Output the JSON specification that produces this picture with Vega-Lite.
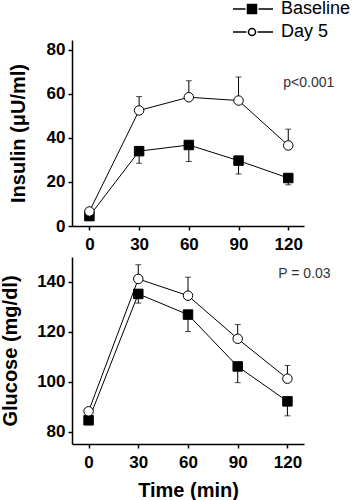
{
  "$schema": "https://vega.github.io/schema/vega-lite/v6.json",
  "padding": 0,
  "background": "white",
  "spacing": 5,
  "config": {
    "font": "Liberation Sans",
    "view": {"stroke": null},
    "axis": {
      "grid": false,
      "domainColor": "black",
      "domainWidth": 1.5,
      "tickColor": "black",
      "tickWidth": 1.5,
      "tickSize": 4,
      "labelFont": "Liberation Sans",
      "labelFontSize": 17,
      "labelFontWeight": "bold",
      "labelColor": "black",
      "labelPadding": 3,
      "titleFont": "Liberation Sans",
      "titleFontSize": 20,
      "titleFontWeight": "bold",
      "titleColor": "black"
    },
    "legend": {
      "padding": 0,
      "labelFontSize": 18,
      "labelFont": "Liberation Sans",
      "labelColor": "black",
      "labelFontWeight": "normal",
      "symbolSize": 100,
      "labelOffset": 20,
      "rowPadding": 5
    }
  },
  "datasets": {
    "measures": [
      {"panel": "Insulin", "group": "Baseline", "time": 0, "value": 4.5, "err": null},
      {"panel": "Insulin", "group": "Baseline", "time": 30, "value": 34, "err": 28.5},
      {"panel": "Insulin", "group": "Baseline", "time": 60, "value": 36.8, "err": 29.3},
      {"panel": "Insulin", "group": "Baseline", "time": 90, "value": 29.7, "err": 23.6},
      {"panel": "Insulin", "group": "Baseline", "time": 120, "value": 21.8, "err": 18.7},
      {"panel": "Insulin", "group": "Day 5", "time": 0, "value": 6.6, "err": null},
      {"panel": "Insulin", "group": "Day 5", "time": 30, "value": 52.5, "err": 58.8},
      {"panel": "Insulin", "group": "Day 5", "time": 60, "value": 58.5, "err": 66},
      {"panel": "Insulin", "group": "Day 5", "time": 90, "value": 57, "err": 67.7},
      {"panel": "Insulin", "group": "Day 5", "time": 120, "value": 36.6, "err": 44},
      {"panel": "Glucose", "group": "Baseline", "time": 0, "value": 84.5, "err": null},
      {"panel": "Glucose", "group": "Baseline", "time": 30, "value": 135.2, "err": 131.5},
      {"panel": "Glucose", "group": "Baseline", "time": 60, "value": 126.9, "err": 120.1},
      {"panel": "Glucose", "group": "Baseline", "time": 90, "value": 106.1, "err": 99.6},
      {"panel": "Glucose", "group": "Baseline", "time": 120, "value": 92.1, "err": 86.3},
      {"panel": "Glucose", "group": "Day 5", "time": 0, "value": 88.1, "err": null},
      {"panel": "Glucose", "group": "Day 5", "time": 30, "value": 141.2, "err": 146.9},
      {"panel": "Glucose", "group": "Day 5", "time": 60, "value": 134.5, "err": 141.9},
      {"panel": "Glucose", "group": "Day 5", "time": 90, "value": 117.2, "err": 122.9},
      {"panel": "Glucose", "group": "Day 5", "time": 120, "value": 101.2, "err": 106.5}
    ],
    "notes": [
      {"panel": "Insulin", "time": 117, "value": 65, "label": "p<0.001"},
      {"panel": "Glucose", "time": 114.5, "value": 143.2, "label": "P = 0.03"}
    ]
  },
  "resolve": {"scale": {"shape": "independent", "fill": "independent"}, "legend": {"shape": "independent", "fill": "independent"}},
  "vconcat": [
    {
      "width": 232,
      "height": 186,
      "resolve": {"scale": {"shape": "independent", "fill": "independent"}, "legend": {"shape": "independent", "fill": "independent"}},
      "encoding": {
        "x": {"field": "time", "type": "quantitative", "scale": {"domain": [-10.5, 129.5], "nice": false, "zero": false},
              "axis": {"values": [0, 30, 60, 90, 120], "title": null, "labelPadding": 6}},
        "y": {"field": "value", "type": "quantitative", "scale": {"domain": [0, 84.5], "nice": false},
              "axis": {"values": [0, 20, 40, 60, 80], "title": "Insulin (μU/ml)", "titlePadding": 18}}
      },
      "layer": [
        {
          "data": {"name": "measures"},
          "transform": [{"filter": "datum.panel === 'Insulin' && datum.err != null"}],
          "mark": {"type": "rule", "color": "black", "strokeWidth": 1},
          "encoding": {"y2": {"field": "err"}}
        },
        {
          "data": {"name": "measures"},
          "transform": [{"filter": "datum.panel === 'Insulin' && datum.err != null"}],
          "mark": {"type": "tick", "orient": "horizontal", "size": 6, "thickness": 1, "color": "black"},
          "encoding": {
            "y": {"field": "err", "type": "quantitative", "scale": {"domain": [0, 84.5], "nice": false},
                  "axis": {"values": [0, 20, 40, 60, 80], "title": "Insulin (μU/ml)", "titlePadding": 18}}
          }
        },
        {
          "data": {"name": "measures"},
          "transform": [{"filter": "datum.panel === 'Insulin'"}],
          "mark": {"type": "line", "color": "black", "strokeWidth": 1},
          "encoding": {"detail": {"field": "group"}}
        },
        {
          "data": {"name": "measures"},
          "transform": [{"filter": "datum.panel === 'Insulin'"}],
          "mark": {"type": "point", "filled": true, "opacity": 0, "size": 100, "stroke": "black", "strokeWidth": 1.2},
          "encoding": {
            "shape": {"field": "group", "type": "nominal",
              "scale": {"domain": ["Baseline", "Day 5"], "range": ["M-3.8,0H-1.3M1.3,0H4.2M-0.9,-0.9H0.9V0.9H-0.9Z", "M-3.8,0H-1.1M1.1,0H4.2M0.7,0A0.7,0.7 0 1,1 -0.7,0A0.7,0.7 0 1,1 0.7,0Z"]},
              "legend": {"title": null, "orient": "none", "legendX": 171, "legendY": -40, "symbolOpacity": 1}},
            "fill": {"field": "group", "type": "nominal",
              "scale": {"domain": ["Baseline", "Day 5"], "range": ["black", "white"]},
              "legend": {"title": null, "orient": "none", "legendX": 171, "legendY": -40, "symbolOpacity": 1}}
          }
        },
        {
          "data": {"name": "measures"},
          "transform": [{"filter": "datum.panel === 'Insulin'"}],
          "mark": {"type": "point", "filled": true, "stroke": "black", "strokeWidth": 1, "size": 90, "opacity": 1},
          "encoding": {
            "shape": {"field": "group", "type": "nominal", "scale": {"range": ["square", "circle"]}, "legend": null},
            "fill": {"field": "group", "type": "nominal", "scale": {"range": ["black", "white"]}, "legend": null}
          }
        },
        {
          "data": {"name": "notes"},
          "transform": [{"filter": "datum.panel === 'Insulin'"}],
          "mark": {"type": "text", "align": "left", "baseline": "middle", "fontSize": 14, "color": "#333333", "font": "Liberation Sans"},
          "encoding": {"text": {"field": "label"}}
        }
      ]
    },
    {
      "width": 232,
      "height": 187,
      "encoding": {
        "x": {"field": "time", "type": "quantitative", "scale": {"domain": [-10, 130], "nice": false, "zero": false},
              "axis": {"values": [0, 30, 60, 90, 120], "title": "Time (min)", "labelPadding": 6, "titlePadding": 10}},
        "y": {"field": "value", "type": "quantitative", "scale": {"domain": [75, 150], "nice": false, "zero": false},
              "axis": {"values": [80, 100, 120, 140], "title": "Glucose (mg/dl)", "titlePadding": 16}}
      },
      "layer": [
        {
          "data": {"name": "measures"},
          "transform": [{"filter": "datum.panel === 'Glucose' && datum.err != null"}],
          "mark": {"type": "rule", "color": "black", "strokeWidth": 1},
          "encoding": {"y2": {"field": "err"}}
        },
        {
          "data": {"name": "measures"},
          "transform": [{"filter": "datum.panel === 'Glucose' && datum.err != null"}],
          "mark": {"type": "tick", "orient": "horizontal", "size": 6, "thickness": 1, "color": "black"},
          "encoding": {
            "y": {"field": "err", "type": "quantitative", "scale": {"domain": [75, 150], "nice": false, "zero": false},
                  "axis": {"values": [80, 100, 120, 140], "title": "Glucose (mg/dl)", "titlePadding": 16}}
          }
        },
        {
          "data": {"name": "measures"},
          "transform": [{"filter": "datum.panel === 'Glucose'"}],
          "mark": {"type": "line", "color": "black", "strokeWidth": 1},
          "encoding": {"detail": {"field": "group"}}
        },
        {
          "data": {"name": "measures"},
          "transform": [{"filter": "datum.panel === 'Glucose'"}],
          "mark": {"type": "point", "filled": true, "stroke": "black", "strokeWidth": 1, "size": 90, "opacity": 1},
          "encoding": {
            "shape": {"field": "group", "type": "nominal", "scale": {"domain": ["Baseline", "Day 5"], "range": ["square", "circle"]}, "legend": null},
            "fill": {"field": "group", "type": "nominal", "scale": {"domain": ["Baseline", "Day 5"], "range": ["black", "white"]}, "legend": null}
          }
        },
        {
          "data": {"name": "notes"},
          "transform": [{"filter": "datum.panel === 'Glucose'"}],
          "mark": {"type": "text", "align": "left", "baseline": "middle", "fontSize": 14, "color": "#333333", "font": "Liberation Sans"},
          "encoding": {"text": {"field": "label"}}
        }
      ]
    }
  ]
}
